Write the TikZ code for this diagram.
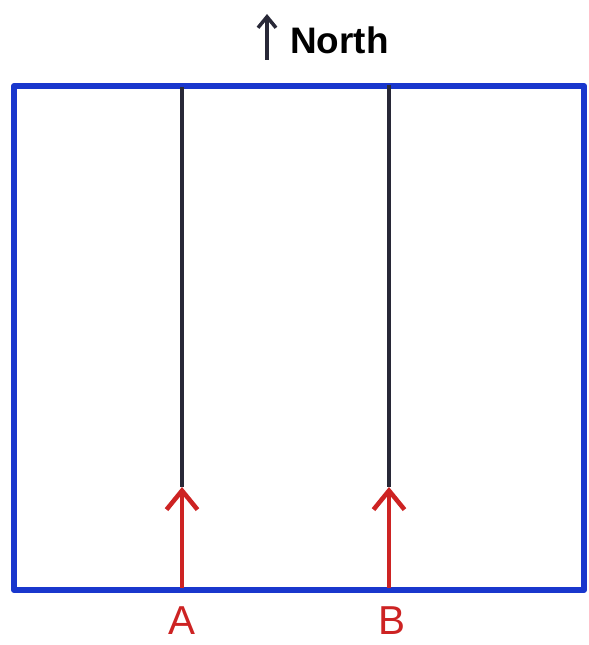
\documentclass[tikz,border=0pt]{standalone}
\usepackage{fontspec}
\setmainfont{Liberation Sans}
\usetikzlibrary{arrows.meta,positioning}

\definecolor{penblue}{RGB}{25,55,205}
\definecolor{penred}{RGB}{205,35,35}
\definecolor{penblack}{RGB}{40,40,55}

\begin{document}
\begin{tikzpicture}[x=0.02cm,y=-0.02cm,
  field/.style={draw=penblue,line width=3.4pt,line join=round},
  track/.style={draw=penblack,line width=2.2pt},
  entry/.style={-{Straight Barb[length=0.38cm,width=0.62cm,line width=2.6pt]},draw=penred,line width=2.6pt},
  gate/.style={text=penred,font=\fontsize{23}{23}\selectfont,inner sep=0pt},
  compass/.style={font=\fontsize{21}{21}\selectfont\bfseries,inner sep=0pt}]

\useasboundingbox (0,0) rectangle (588,645);

% field outline
\draw[field] (14,86) rectangle (584,590);

% tracks
\coordinate (topA) at (182,87);
\coordinate (midA) at (182,487);
\coordinate (botA) at (182,588);
\coordinate (topB) at (389,85);
\coordinate (midB) at (389,487);
\coordinate (botB) at (389,588);

\draw[track] (topA) -- (midA);
\draw[track] (topB) -- (midB);

\draw[entry] (botA) -- (midA);
\draw[entry] (botB) -- (midB);

\node[gate] (labA) at (182,621) {A};
\node[gate] (labB) at (392,621) {B};

% north marker
\node[compass,anchor=west] (north) at (290,40) {North};
\coordinate (northfoot) at (267,60);
\coordinate (northtip) at (267,14);
\draw[-{Straight Barb[length=0.22cm,width=0.36cm,line width=2pt]},draw=penblack,line width=2pt]
  (northfoot) -- (northtip);
\end{tikzpicture}
\end{document}
